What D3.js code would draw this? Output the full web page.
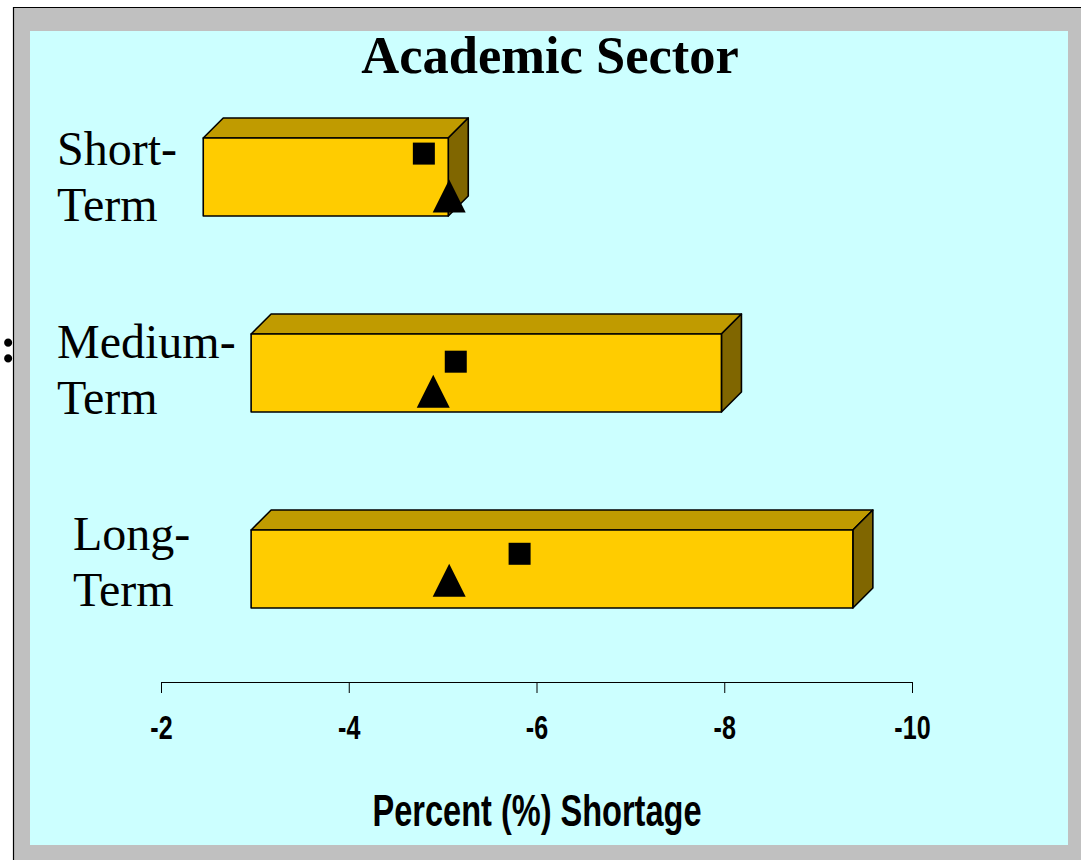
<!DOCTYPE html>
<html lang="en">
	<head>
		<meta charset="utf-8">
		<title>Academic Sector</title>
		<script type="text/javascript" src="https://cdn.jsdelivr.net/npm/d3@7"></script>
		<style type="text/css">
			body { margin: 0; background: #ffffff; }
			svg { display: block; }
		</style>
	</head>
	<body>
		<script type="text/javascript">

			//Data
			var categories = ["Short-Term", "Medium-Term", "Long-Term"];
			var labelLines = [["Short-", "Term"], ["Medium-", "Term"], ["Long-", "Term"]];
			var barLow = [-2.45, -2.96, -2.96];
			var barHigh = [-5.06, -7.97, -9.37];
			var squareVals = [-4.80, -5.14, -5.82];
			var triangleVals = [-5.07, -4.90, -5.07];
			// vertical level of the markers inside each bar (0 = top, 1 = bottom)
			var squareLevel = [0.20, 0.355, 0.305];
			var triangleLevel = [0.745, 0.735, 0.645];
			var tickVals = [-2, -4, -6, -8, -10];

			//Width and height
			var w = 1081;
			var h = 860;
			var depth = 20;

			var svg = d3.select("body")
						.append("svg")
						.attr("width", w)
						.attr("height", h);

			//Frame
			svg.append("rect")
				.attr("x", 14).attr("y", 8)
				.attr("width", w - 14).attr("height", h - 8)
				.attr("fill", "#c0c0c0");
			svg.append("line")
				.attr("x1", 13).attr("y1", 7.5).attr("x2", w).attr("y2", 7.5)
				.attr("stroke", "#000").attr("stroke-width", 1.2);
			svg.append("line")
				.attr("x1", 13.5).attr("y1", 7).attr("x2", 13.5).attr("y2", h)
				.attr("stroke", "#000").attr("stroke-width", 1.2);
			svg.append("rect")
				.attr("x", 30).attr("y", 31)
				.attr("width", 1038).attr("height", 814)
				.attr("fill", "#ccffff");

			// colon at the left edge
			svg.append("text")
				.attr("x", 0).attr("y", 362)
				.attr("font-family", "'Liberation Serif', 'Times New Roman', serif")
				.attr("font-weight", "bold")
				.attr("font-size", "50px")
				.text(":");

			//Scales
			var xScale = d3.scaleLinear()
							.domain([-2, -10])
							.range([161, 912]);

			var yScale = d3.scaleBand()
							.domain(categories)
							.range([138, 608])
							.paddingInner(0.602)
							.paddingOuter(0);

			var bw = yScale.bandwidth();

			var rows = categories.map(function(c, i) {
				return {
					cat: c,
					lines: labelLines[i],
					low: barLow[i],
					high: barHigh[i],
					sq: squareVals[i],
					tri: triangleVals[i],
					sqLevel: squareLevel[i],
					triLevel: triangleLevel[i]
				};
			});

			//Title
			svg.append("text")
				.attr("x", 550)
				.attr("y", 73)
				.attr("text-anchor", "middle")
				.attr("font-family", "'Liberation Serif', 'Times New Roman', serif")
				.attr("font-weight", "bold")
				.attr("font-size", "52.5px")
				.text("Academic Sector");

			//Category labels
			var labelDx = [57, 57, 73];
			var labelDy = [-12, -15, -19];
			var labels = svg.selectAll("text.cat")
				.data(rows)
				.enter()
				.append("text")
				.attr("class", "cat")
				.attr("font-family", "'Liberation Serif', 'Times New Roman', serif")
				.attr("font-size", "48px")
				.attr("fill", "#000")
				.attr("x", function(d, i) { return labelDx[i]; })
				.attr("y", function(d, i) { return yScale(d.cat) + bw / 2 + labelDy[i]; });

			labels.selectAll("tspan")
				.data(function(d, i) { return d.lines.map(function(t) { return { t: t, x: labelDx[i] }; }); })
				.enter()
				.append("tspan")
				.attr("x", function(d) { return d.x; })
				.attr("dy", function(d, j) { return j === 0 ? 0 : 56; })
				.text(function(d) { return d.t; });

			//Bars (3D boxes)
			var bars = svg.selectAll("g.bar")
				.data(rows)
				.enter()
				.append("g")
				.attr("class", "bar")
				.attr("stroke", "#000")
				.attr("stroke-width", 1.6)
				.attr("stroke-linejoin", "round");

			// top face
			bars.append("path")
				.attr("fill", "#c09b00")
				.attr("d", function(d) {
					var x0 = xScale(d.low), x1 = xScale(d.high), y0 = yScale(d.cat);
					return "M" + x0 + "," + y0 + "L" + (x0 + depth) + "," + (y0 - depth) +
						"L" + (x1 + depth) + "," + (y0 - depth) + "L" + x1 + "," + y0 + "Z";
				});

			// side face
			bars.append("path")
				.attr("fill", "#806600")
				.attr("d", function(d) {
					var x1 = xScale(d.high), y0 = yScale(d.cat);
					return "M" + x1 + "," + y0 + "L" + (x1 + depth) + "," + (y0 - depth) +
						"L" + (x1 + depth) + "," + (y0 + bw - depth) + "L" + x1 + "," + (y0 + bw) + "Z";
				});

			// front face
			bars.append("rect")
				.attr("fill", "#ffcc00")
				.attr("x", function(d) { return xScale(d.low); })
				.attr("y", function(d) { return yScale(d.cat); })
				.attr("width", function(d) { return xScale(d.high) - xScale(d.low); })
				.attr("height", bw);

			//Square markers
			var sq = 22;
			svg.selectAll("rect.sq")
				.data(rows)
				.enter()
				.append("rect")
				.attr("class", "sq")
				.attr("x", function(d) { return xScale(d.sq) - sq / 2; })
				.attr("y", function(d) { return yScale(d.cat) + d.sqLevel * bw - sq / 2; })
				.attr("width", sq)
				.attr("height", sq)
				.attr("fill", "#000");

			//Triangle markers
			var tw = 33, th = 33;
			svg.selectAll("path.tri")
				.data(rows)
				.enter()
				.append("path")
				.attr("class", "tri")
				.attr("fill", "#000")
				.attr("d", function(d) {
					var cx = xScale(d.tri);
					var cy = yScale(d.cat) + d.triLevel * bw;
					return "M" + cx + "," + (cy - th / 2) +
						"L" + (cx + tw / 2) + "," + (cy + th / 2) +
						"L" + (cx - tw / 2) + "," + (cy + th / 2) + "Z";
				});

			//X axis
			var xAxis = d3.axisBottom()
							.scale(xScale)
							.tickValues(tickVals)
							.tickSize(11)
							.tickSizeOuter(0)
							.tickPadding(23)
							.tickFormat(function(d) { return "-" + Math.abs(d); });

			var axisG = svg.append("g")
				.attr("class", "x axis")
				.attr("transform", "translate(0,682)")
				.call(xAxis);

			axisG.select(".domain").attr("stroke", "#000").attr("stroke-width", 1);
			axisG.selectAll(".tick line").attr("stroke", "#000").attr("stroke-width", 1);
			axisG.selectAll(".tick text")
				.attr("fill", "#000")
				.attr("font-family", "'Liberation Sans', Arial, sans-serif")
				.attr("font-weight", "bold")
				.attr("font-size", "33px")
				.attr("lengthAdjust", "spacingAndGlyphs")
				.attr("textLength", function() {
					// squeeze like a narrow face
					return this.getComputedTextLength() * 0.76;
				});

			//X axis title
			svg.append("text")
				.attr("x", 537)
				.attr("y", 826)
				.attr("text-anchor", "middle")
				.attr("font-family", "'Liberation Sans', Arial, sans-serif")
				.attr("font-weight", "bold")
				.attr("font-size", "44px")
				.attr("textLength", 329)
				.attr("lengthAdjust", "spacingAndGlyphs")
				.text("Percent (%) Shortage");

		</script>
	</body>
</html>
